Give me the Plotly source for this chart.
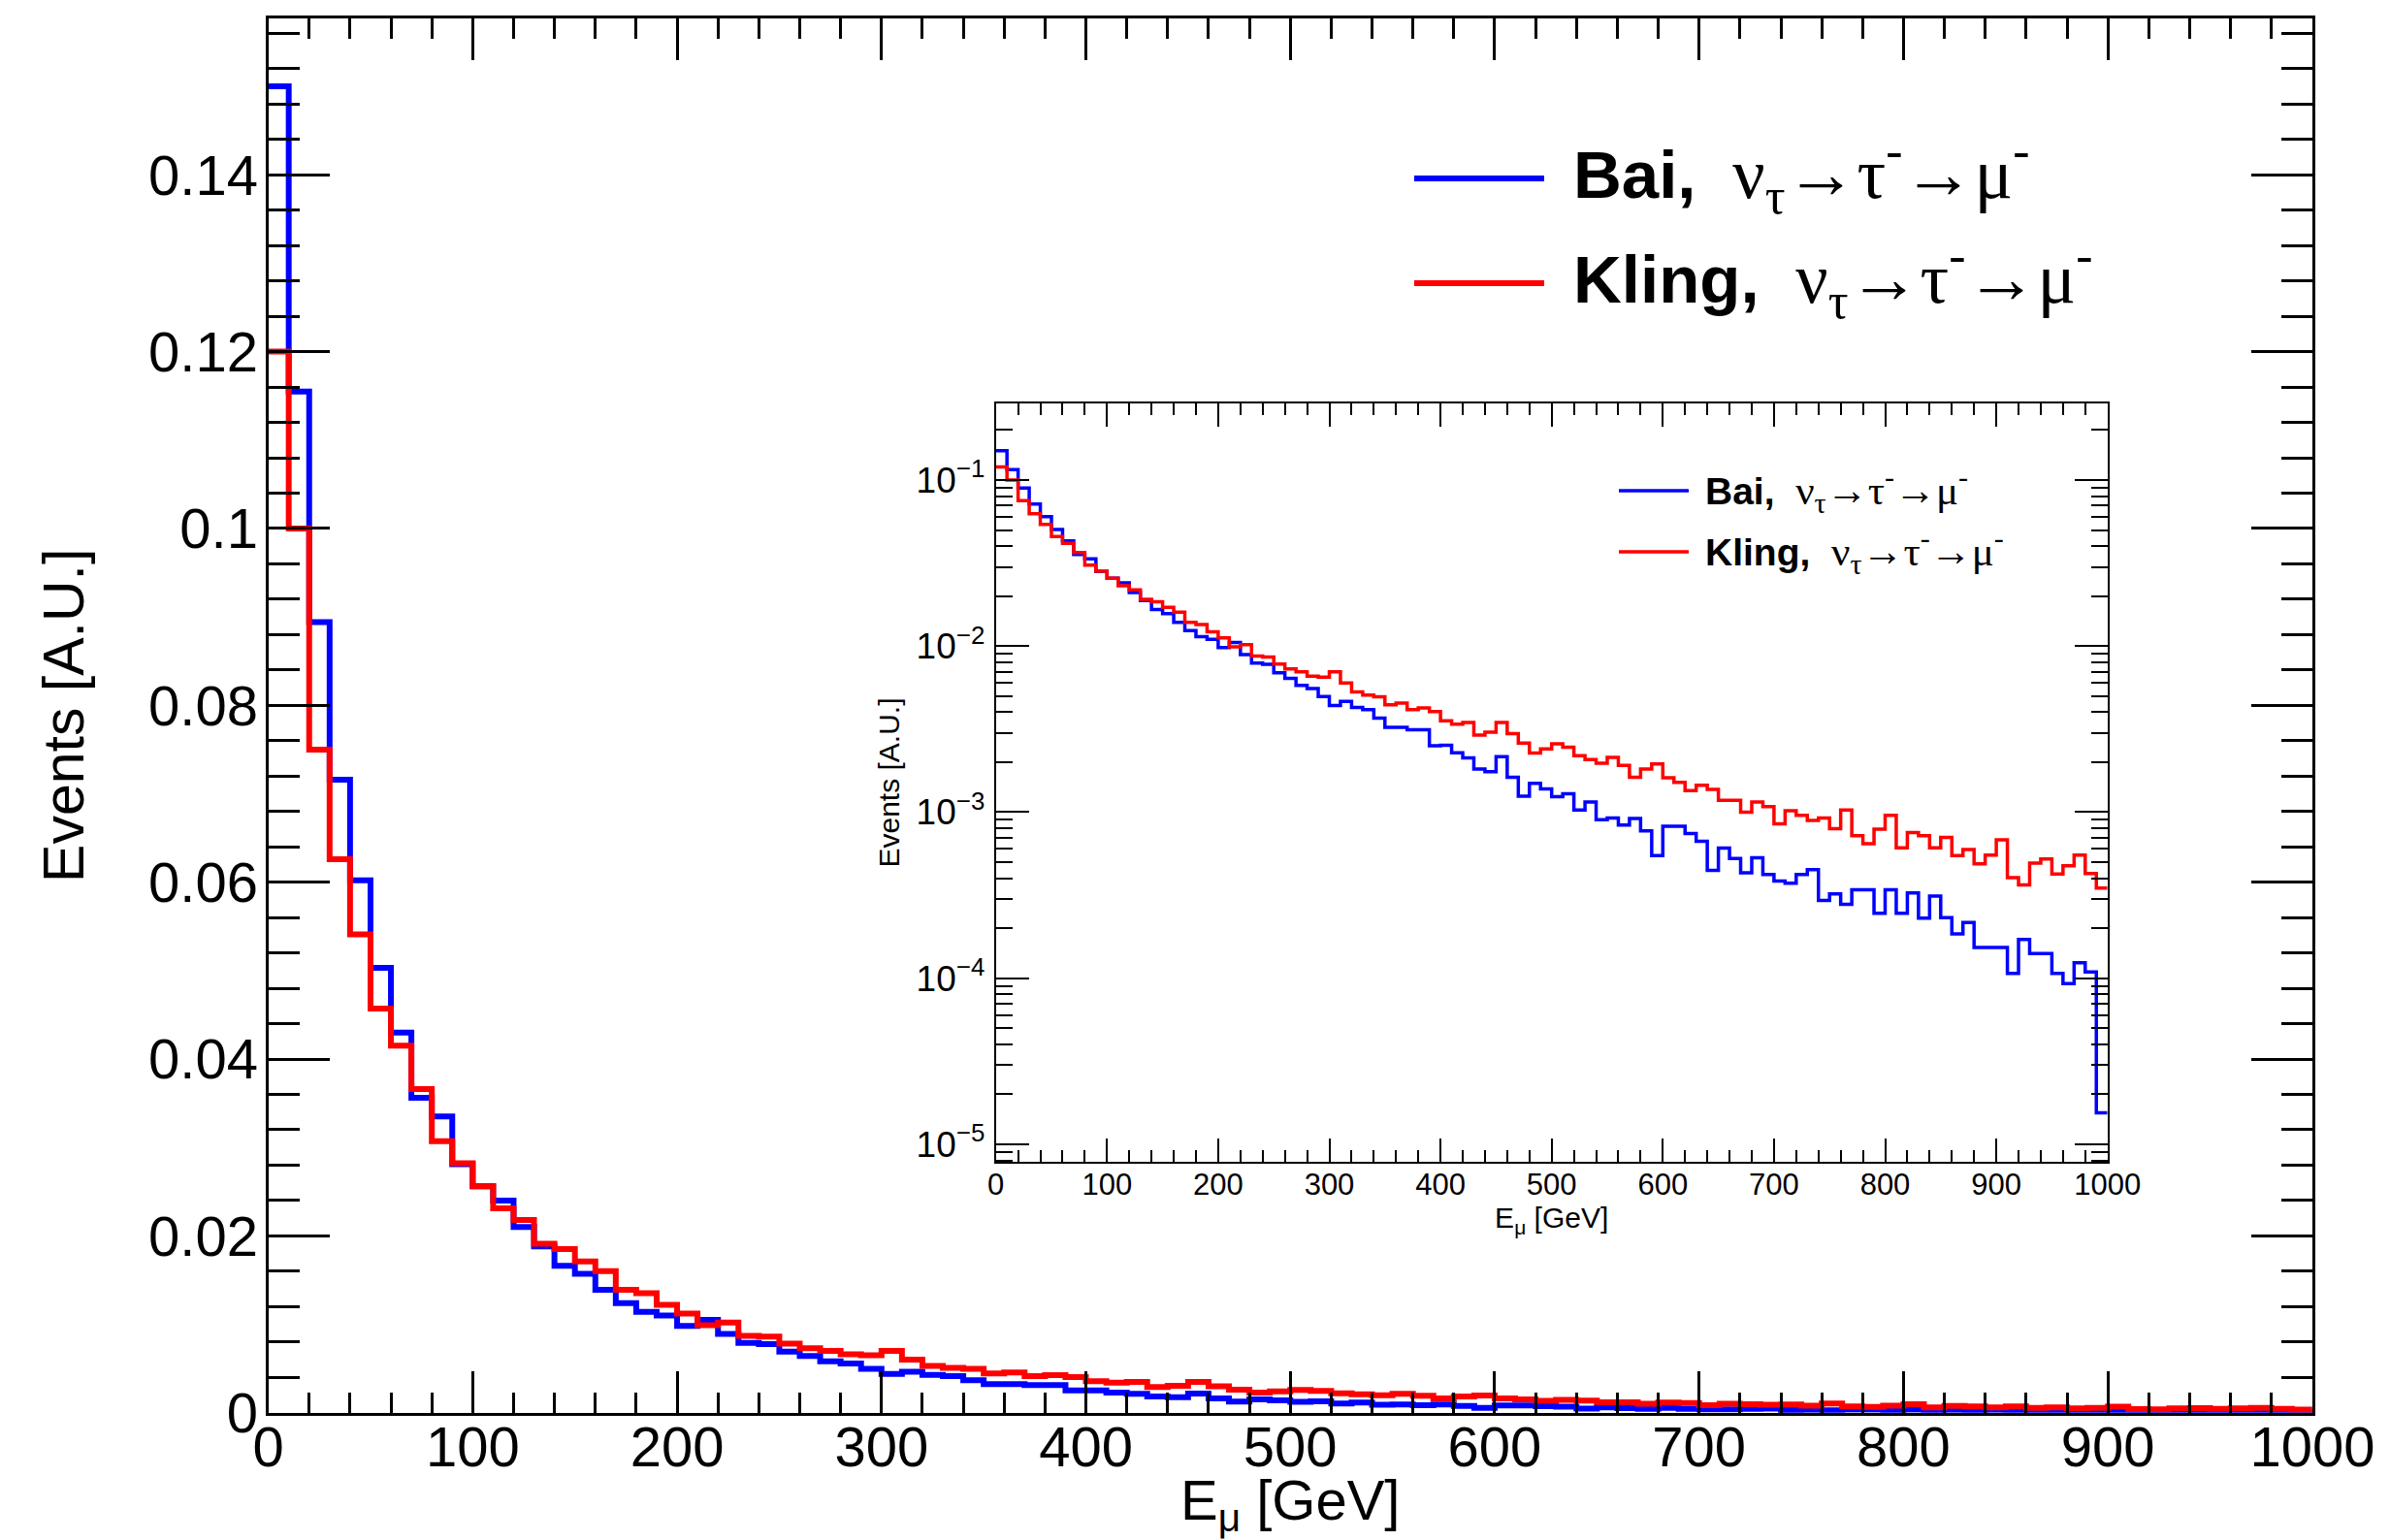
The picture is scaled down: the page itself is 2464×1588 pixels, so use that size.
import numpy as np
import plotly.graph_objects as go

# ---------------- data: 100 bins of 10 GeV from 0 to 1000 GeV ----------------
bin_low = 0
bin_width = 10

bai = [0.150, 0.1155, 0.0894, 0.0716, 0.0602, 0.0503, 0.0430, 0.0356, 0.0335, 0.0281,
       0.0256, 0.0240, 0.0210, 0.0188, 0.0166, 0.0157, 0.0139, 0.0124, 0.0114, 0.0110,
       0.0098, 0.0105, 0.0089, 0.0079, 0.00776, 0.0069, 0.0064, 0.0058, 0.00555, 0.00496,
       0.00438, 0.00464, 0.00427, 0.00414, 0.00368, 0.00324, 0.00324, 0.00313, 0.00313, 0.00251,
       0.00253, 0.00228, 0.00212, 0.00182, 0.00175, 0.00216, 0.00162, 0.00125, 0.00149, 0.00138,
       0.00124, 0.00129, 0.00103, 0.00115, 0.000902, 0.000922, 0.000836, 0.000915, 0.000771, 0.000547,
       0.000824, 0.000824, 0.000745, 0.000668, 0.000447, 0.000608, 0.000527, 0.000431, 0.000532, 0.000421,
       0.000385, 0.000373, 0.000421, 0.000451, 0.000294, 0.000322, 0.000279, 0.000341, 0.000341, 0.000246,
       0.000341, 0.000246, 0.000327, 0.000230, 0.000312, 0.000232, 0.000185, 0.000217, 0.000153, 0.000153,
       0.000153, 0.000107, 0.000171, 0.000141, 0.000141, 0.000107, 0.0000929, 0.000124, 0.000109, 0.0000155]

kling = [0.120, 0.100, 0.0750, 0.0626, 0.0541, 0.0457, 0.0415, 0.0366, 0.0307, 0.0282,
         0.0256, 0.0231, 0.0218, 0.0191, 0.0185, 0.0171, 0.0160, 0.0139, 0.0135, 0.0122,
         0.0112, 0.0099, 0.0102, 0.0087, 0.0086, 0.0078, 0.0073, 0.0070, 0.0066, 0.0065,
         0.0070, 0.0060, 0.0053, 0.00507, 0.00495, 0.00443, 0.00454, 0.00414, 0.00424, 0.00403,
         0.00355, 0.00339, 0.00347, 0.00291, 0.00303, 0.00347, 0.00297, 0.00261, 0.00227, 0.00240,
         0.00258, 0.00246, 0.00219, 0.00207, 0.00197, 0.00214, 0.00191, 0.00162, 0.00182, 0.00195,
         0.00161, 0.00151, 0.00135, 0.00145, 0.00137, 0.00118, 0.00118, 0.00100, 0.00115, 0.00108,
         0.000851, 0.00102, 0.000957, 0.000891, 0.000922, 0.000796, 0.00103, 0.000721, 0.000645, 0.000789,
         0.000957, 0.000611, 0.000755, 0.000721, 0.000611, 0.000706, 0.000547, 0.000595, 0.000489, 0.000551,
         0.000681, 0.000403, 0.000365, 0.000493, 0.000522, 0.000425, 0.000475, 0.000551, 0.000427, 0.000349]

series_names = ["Bai", "Kling"]
series_colors = ["#0000ff", "#ff0000"]
process_label = "ν<sub>τ</sub>→τ<sup>-</sup>→μ<sup>-</sup>"
x_title = "E<sub>μ</sub> [GeV]"
y_title = "Events [A.U.]"

x_tick_labels = ["0", "100", "200", "300", "400", "500", "600", "700", "800", "900", "1000"]
inset_y_tickvals = [1e-5, 1e-4, 1e-3, 1e-2, 1e-1]
inset_y_ticktext = ["10<sup>−5</sup>", "10<sup>−4</sup>", "10<sup>−3</sup>", "10<sup>−2</sup>", "10<sup>−1</sup>"]

# ---------------- figure ----------------
W, H = 2464, 1588
edges = bin_low + bin_width * np.arange(len(bai) + 1)

def step(v):
    return list(v) + [v[-1]]

fig = go.Figure()
for name, vals, col in zip(series_names, [bai, kling], series_colors):
    fig.add_trace(go.Scatter(x=edges, y=step(vals), mode="lines", name=name,
                             line=dict(color=col, width=6, shape="hv"),
                             showlegend=False, xaxis="x", yaxis="y"))
for name, vals, col in zip(series_names, [bai, kling], series_colors):
    fig.add_trace(go.Scatter(x=edges, y=step(vals), mode="lines", name=name,
                             line=dict(color=col, width=3.5, shape="hv"),
                             showlegend=False, xaxis="x2", yaxis="y2"))

FONT = "Liberation Sans"

def px_x(p):
    return p / W

def px_y(p):
    return 1 - p / H

main_x0, main_x1, main_y0, main_y1 = 276.6, 2383.9, 1456.7, 18.9
ins_x0, ins_x1, ins_y0, ins_y1 = 1026.7, 2172.7, 1198.0, 416.0

tickvals_x = [float(t) for t in x_tick_labels]

fig.update_layout(
    width=W, height=H,
    template="none",
    margin=dict(l=0, r=0, t=0, b=0, autoexpand=False),
    paper_bgcolor="white", plot_bgcolor="white",
    font=dict(family=FONT, color="black"),
    xaxis=dict(domain=[px_x(main_x0), px_x(main_x1)], anchor="y", range=[0, 1000], automargin=False,
               tickvals=tickvals_x, ticktext=x_tick_labels,
               ticks="inside", ticklen=43, tickwidth=3, tickcolor="black",
               minor=dict(dtick=20, tick0=0, ticks="inside", ticklen=21, tickwidth=3, tickcolor="black"),
               showline=True, linewidth=3, linecolor="black", mirror="ticks",
               showgrid=False, zeroline=False,
               tickfont=dict(size=58, family=FONT), ticklabelstandoff=-17),
    yaxis=dict(domain=[px_y(main_y0), px_y(main_y1)], anchor="x", range=[0, 0.1577], automargin=False,
               dtick=0.02, tick0=0,
               ticks="inside", ticklen=63, tickwidth=3, tickcolor="black",
               minor=dict(dtick=0.004, tick0=0, ticks="inside", ticklen=32, tickwidth=3, tickcolor="black"),
               showline=True, linewidth=3, linecolor="black", mirror="ticks",
               showgrid=False, zeroline=False,
               tickfont=dict(size=58, family=FONT), ticklabelstandoff=-4,
               title=dict(text=y_title, font=dict(size=59, family=FONT), standoff=48)),
    xaxis2=dict(domain=[px_x(ins_x0), px_x(ins_x1)], anchor="y2", range=[0, 1000], automargin=False,
                tickvals=tickvals_x, ticktext=x_tick_labels,
                ticks="inside", ticklen=24, tickwidth=2, tickcolor="black",
                minor=dict(dtick=20, tick0=0, ticks="inside", ticklen=12, tickwidth=2, tickcolor="black"),
                showline=True, linewidth=2, linecolor="black", mirror="ticks",
                showgrid=False, zeroline=False,
                tickfont=dict(size=31, family=FONT), ticklabelstandoff=-5,
                title=dict(text=x_title, font=dict(size=30, family=FONT), standoff=2)),
    yaxis2=dict(domain=[px_y(ins_y0), px_y(ins_y1)], anchor="x2", type="log", automargin=False,
                range=[-5.105, -0.539],
                tickvals=inset_y_tickvals, ticktext=inset_y_ticktext,
                ticks="inside", ticklen=34, tickwidth=2, tickcolor="black",
                minor=dict(tickvals=[k * 10.0 ** e for e in range(-6, 0) for k in range(2, 10)],
                           ticks="inside", ticklen=17, tickwidth=2, tickcolor="black"),
                showline=True, linewidth=2, linecolor="black", mirror="ticks",
                showgrid=False, zeroline=False,
                tickfont=dict(size=37, family=FONT), ticklabelstandoff=2,
                title=dict(text=y_title, font=dict(size=30, family=FONT), standoff=8)),
)

# main x-axis title, placed as in the reference (just below the tick labels)
fig.add_annotation(xref="paper", yref="paper", x=px_x((main_x0 + main_x1) / 2), y=px_y(1551),
                   xanchor="center", yanchor="middle", showarrow=False,
                   text=x_title, font=dict(family=FONT, size=58, color="black"))

# ---------------- legends (ROOT-style long line samples) ----------------
def legend_entry(name, color, x_line0, x_line1, y, x_text, y_text, size, greek_size, lw):
    fig.add_shape(type="line", xref="paper", yref="paper",
                  x0=px_x(x_line0), x1=px_x(x_line1), y0=px_y(y), y1=px_y(y),
                  line=dict(color=color, width=lw))
    fig.add_annotation(xref="paper", yref="paper", x=px_x(x_text), y=px_y(y_text),
                       xanchor="left", yanchor="middle", showarrow=False,
                       text=(f"<b>{name},</b>&nbsp;<span style=\"font-family:Liberation Serif;"
                             f"font-size:{greek_size}px\">&nbsp;{process_label}</span>"),
                       font=dict(family=FONT, size=size, color="black"))

for name, col, y in zip(series_names, series_colors, [184, 292]):
    legend_entry(name, col, 1458, 1592, y, 1620, y - 5, 69, 74, 6)
for name, col, y in zip(series_names, series_colors, [506, 569]):
    legend_entry(name, col, 1669, 1741, y, 1756, y - 1, 39, 43, 3.5)

fig.write_html("out.html")
